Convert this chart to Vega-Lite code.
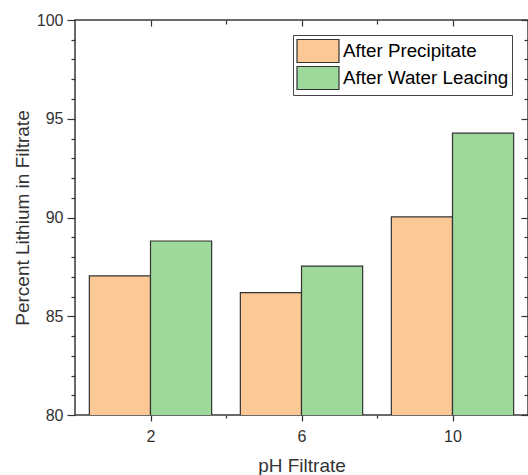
{
  "$schema": "https://vega.github.io/schema/vega-lite/v6.json",
  "width": 453,
  "height": 395,
  "autosize": {"type": "none"},
  "padding": {"left": 75, "top": 20, "right": 0, "bottom": 60},
  "background": "white",
  "config": {
    "view": {"stroke": "#3a3a3a", "strokeWidth": 1.5},
    "font": "Liberation Sans",
    "axis": {
      "domain": false,
      "grid": false,
      "tickColor": "#333",
      "tickWidth": 1.2,
      "labelColor": "#333",
      "titleColor": "#333",
      "labelFont": "Liberation Sans",
      "titleFont": "Liberation Sans",
      "labelFontSize": 16,
      "titleFontSize": 19,
      "titleFontWeight": "normal"
    }
  },
  "data": {
    "values": [
      {"pH": 2, "series": "After Precipitate", "value": 87.04},
      {"pH": 2, "series": "After Water Leacing", "value": 88.81},
      {"pH": 6, "series": "After Precipitate", "value": 86.2},
      {"pH": 6, "series": "After Water Leacing", "value": 87.54},
      {"pH": 10, "series": "After Precipitate", "value": 90.03},
      {"pH": 10, "series": "After Water Leacing", "value": 94.27}
    ]
  },
  "layer": [
    {
      "mark": {"type": "bar", "stroke": "#333", "strokeWidth": 1.2, "clip": true},
      "encoding": {
        "x": {
          "field": "pH",
          "type": "ordinal",
          "sort": [2, 6, 10],
          "scale": {"paddingInner": 0.19, "paddingOuter": 0.095},
          "axis": null
        },
        "xOffset": {
          "field": "series",
          "type": "nominal",
          "sort": ["After Precipitate", "After Water Leacing"],
          "scale": {"paddingInner": 0, "paddingOuter": 0}
        },
        "y": {
          "field": "value",
          "type": "quantitative",
          "scale": {"domain": [80, 100], "nice": false, "zero": false},
          "axis": {
            "orient": "left",
            "values": [80, 81, 82, 83, 84, 85, 86, 87, 88, 89, 90, 91, 92, 93, 94, 95, 96, 97, 98, 99, 100],
            "labelExpr": "datum.value % 5 == 0 ? datum.label : ''",
            "tickSize": {"condition": {"test": "datum.value % 5 != 0", "value": 4}, "value": 8},
            "labelPadding": 4,
            "title": "Percent Lithium in Filtrate",
            "titlePadding": 4
          }
        },
        "fill": {
          "field": "series",
          "type": "nominal",
          "sort": ["After Precipitate", "After Water Leacing"],
          "scale": {"range": ["#FBC896", "#9FD89B"]},
          "legend": {
            "title": null,
            "orient": "none",
            "legendX": 218,
            "legendY": 15,
            "symbolType": "M-1.75,-0.96H1.75V0.96H-1.75Z",
            "symbolSize": 576,
            "symbolOffset": 9,
            "symbolStrokeColor": "#333",
            "symbolStrokeWidth": 1.2,
            "symbolOpacity": 1,
            "labelFontSize": 18.8,
            "labelColor": "#000",
            "labelFont": "Liberation Sans",
            "labelOffset": 12,
            "labelLimit": 300,
            "strokeColor": "#444",
            "fillColor": "white",
            "padding": 3,
            "rowPadding": -4
          }
        }
      }
    },
    {
      "mark": {"type": "point", "opacity": 0},
      "encoding": {
        "x": {
          "field": "pH",
          "type": "quantitative",
          "scale": {"domain": [0, 12], "nice": false},
          "axis": {
            "orient": "bottom",
            "values": [2, 4, 6, 8, 10],
            "labelExpr": "datum.value % 4 == 2 ? datum.label : ''",
            "tickSize": {"condition": {"test": "datum.value % 4 == 0", "value": 3}, "value": 6},
            "labelPadding": 7,
            "title": "pH Filtrate",
            "titlePadding": 12
          }
        },
        "y": {
          "field": "value",
          "type": "quantitative",
          "scale": {"domain": [80, 100], "nice": false, "zero": false},
          "axis": null
        }
      }
    },
    {
      "mark": {"type": "point", "opacity": 0},
      "encoding": {
        "x": {
          "field": "pH",
          "type": "quantitative",
          "scale": {"domain": [0, 12], "nice": false},
          "axis": {
            "orient": "top",
            "values": [2, 4, 6, 8, 10],
            "labels": false,
            "tickSize": {"condition": {"test": "datum.value % 4 == 0", "value": -4}, "value": -6},
            "title": null
          }
        },
        "y": {
          "field": "value",
          "type": "quantitative",
          "scale": {"domain": [80, 100], "nice": false, "zero": false},
          "axis": null
        }
      }
    },
    {
      "mark": {"type": "point", "opacity": 0},
      "encoding": {
        "y": {
          "field": "value",
          "type": "quantitative",
          "scale": {"domain": [80, 100], "nice": false, "zero": false},
          "axis": {
            "orient": "right",
            "values": [80, 81, 82, 83, 84, 85, 86, 87, 88, 89, 90, 91, 92, 93, 94, 95, 96, 97, 98, 99, 100],
            "labels": false,
            "tickSize": {"condition": {"test": "datum.value % 5 != 0", "value": -4}, "value": -7},
            "title": null
          }
        }
      }
    }
  ],
  "resolve": {"scale": {"x": "independent", "y": "independent"}}
}
